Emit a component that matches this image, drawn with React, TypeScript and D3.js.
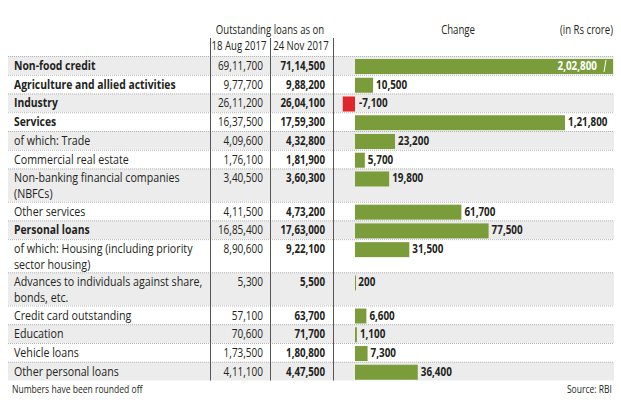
import React from "react";
import * as d3 from "d3";

const labels: string[][] = [
  ["Non-food credit"],
  ["Agriculture and allied activities"],
  ["Industry"],
  ["Services"],
  ["of which: Trade"],
  ["Commercial real estate"],
  ["Non-banking financial companies", "(NBFCs)"],
  ["Other services"],
  ["Personal loans"],
  ["of which: Housing (including priority", "sector housing)"],
  ["Advances to individuals against share,", "bonds, etc."],
  ["Credit card outstanding"],
  ["Education"],
  ["Vehicle loans"],
  ["Other personal loans"],
];
const boldRows = [true, true, true, true, false, false, false, false, true, false, false, false, false, false, false];
const aug2017 = [6911700, 977700, 2611200, 1637500, 409600, 176100, 340500, 411500, 1685400, 890600, 5300, 57100, 70600, 173500, 411100];
const nov2017 = [7114500, 988200, 2604100, 1759300, 432800, 181900, 360300, 473200, 1763000, 922100, 5500, 63700, 71700, 180800, 447500];
const change = [202800, 10500, -7100, 121800, 23200, 5700, 19800, 61700, 77500, 31500, 200, 6600, 1100, 7300, 36400];
const colHeaders = ["18 Aug 2017", "24 Nov 2017"];

function fmtIN(n: number): string {
  const sign = n < 0 ? "-" : "";
  const s = String(Math.abs(n));
  if (s.length <= 3) return sign + s;
  const last3 = s.slice(-3);
  let rest = s.slice(0, -3);
  const parts: string[] = [];
  while (rest.length > 2) {
    parts.unshift(rest.slice(-2));
    rest = rest.slice(0, -2);
  }
  if (rest) parts.unshift(rest);
  return sign + parts.join(",") + "," + last3;
}

const W = 621;
const H = 414;
const FONT = "'Open Sans', sans-serif";
const SX = 0.855;
const SXB = 0.83;
const TEXT = "#231f20";
const GREEN = "#7b9c3a";
const RED = "#e0262b";
const GRAY = "#ececec";

function T(props: {
  x: number;
  y: number;
  children: React.ReactNode;
  size?: number;
  weight?: number;
  anchor?: "start" | "middle" | "end";
  fill?: string;
  sx?: number;
}) {
  const { x, y, children, size = 12.5, weight = 400, anchor = "start", fill = TEXT, sx = SX } = props;
  return (
    <text
      transform={`translate(${x},${y}) scale(${sx},1)`}
      fontFamily={FONT}
      fontSize={size}
      fontWeight={weight}
      textAnchor={anchor}
      fill={fill}
    >
      {children}
    </text>
  );
}

export default function App() {
  const top = 56;
  const bottom = 380.5;
  const units = labels.map((l) => (l.length > 1 ? 1.77 : 1));
  const totalUnits = d3.sum(units);
  const unitH = (bottom - top) / totalUnits;
  const rowTops: number[] = [];
  let acc = top;
  units.forEach((u) => {
    rowTops.push(acc);
    acc += u * unitH;
  });
  const rowH = units.map((u) => u * unitH);

  const x = d3.scaleLinear().domain([0, 121800]).range([355, 565]);
  const xMax = 613;

  const sep = [210, 270, 333];

  return (
    <svg width={W} height={H} style={{ position: "absolute", left: 0, top: 0, background: "#fff" }}>
      <rect x={0} y={0} width={W} height={H} fill="#fff" />
      {/* headers */}
      <T x={270} y={34} anchor="middle" size={12} sx={0.8}>Outstanding loans as on</T>
      <T x={239} y={50} anchor="middle" size={12} sx={0.8}>{colHeaders[0]}</T>
      <T x={301} y={50} anchor="middle" size={12} sx={0.8}>{colHeaders[1]}</T>
      <T x={458} y={34} anchor="middle" size={12} sx={0.8}>Change</T>
      <T x={613} y={34} anchor="end" size={12} sx={0.8}>(in Rs crore)</T>

      {/* rows */}
      {labels.map((lines, i) => (
        <rect key={"bg" + i} x={8} y={rowTops[i]} width={606} height={rowH[i]} fill={i % 2 === 0 ? GRAY : "#fff"} />
      ))}
      {labels.map((lines, i) => (
        <line
          key={"ln" + i}
          x1={8}
          x2={614}
          y1={rowTops[i] + 0.5}
          y2={rowTops[i] + 0.5}
          stroke="#b5b5b5"
          strokeWidth={1}
          strokeDasharray="1,1"
        />
      ))}
      {sep.map((sx, i) => (
        <line key={"sep" + i} x1={sx + 0.5} x2={sx + 0.5} y1={38} y2={bottom} stroke="#555" strokeWidth={1} />
      ))}

      {labels.map((lines, i) => {
        const y0 = rowTops[i];
        const base = y0 + 14;
        const v = change[i];
        const x0 = x(0);
        const x1 = Math.min(x(v), xMax);
        const barX = Math.min(x0, x1);
        const barW = Math.max(Math.abs(x1 - x0), 1);
        const clipped = x(v) > xMax;
        return (
          <g key={"row" + i}>
            {lines.map((ln, j) => (
              <T key={j} x={14} y={base + j * 16} weight={boldRows[i] ? 700 : 400} sx={boldRows[i] ? SXB : SX}>
                {ln}
              </T>
            ))}
            <T x={263} y={base} anchor="end" sx={0.8}>{fmtIN(aug2017[i])}</T>
            <T x={325} y={base} anchor="end" weight={700} sx={0.78}>{fmtIN(nov2017[i])}</T>
            <rect x={barX} y={y0 + 3} width={barW} height={Math.min(15, rowH[i] - 3)} fill={v < 0 ? RED : GREEN} />
            {clipped ? (
              <>
                <T x={xMax - 16} y={base} anchor="end" weight={700} fill="#fff" size={13} sx={0.76}>
                  {fmtIN(v)}
                </T>
                <line x1={xMax - 9} y1={y0 + 16} x2={xMax - 7} y2={y0 + 4} stroke="#fff" strokeWidth={1} />
              </>
            ) : (
              <T x={v < 0 ? x0 + 4 : x1 + 3} y={base} weight={700} size={13} sx={0.76}>
                {fmtIN(v)}
              </T>
            )}
          </g>
        );
      })}

      <T x={12} y={393} size={10}>Numbers have been rounded off</T>
      <T x={612} y={393} size={10} anchor="end">Source: RBI</T>
    </svg>
  );
}
